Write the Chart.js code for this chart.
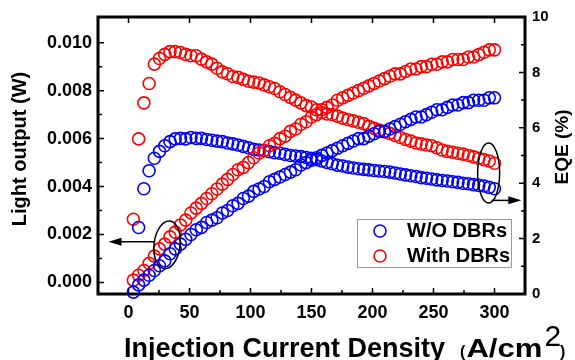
<!DOCTYPE html>
<html><head><meta charset="utf-8">
<script src="https://cdn.jsdelivr.net/npm/chart.js@4.4.1/dist/chart.umd.min.js"></script>
<style>html,body{margin:0;padding:0;background:#fff;}canvas{display:block;}</style>
</head><body>
<canvas id="c" width="575" height="360"></canvas>
<script>
// Injection current density (A/cm^2)
const currentDensity = [4,8.3,12.6,16.9,21.2,25.4,29.7,34.0,38.3,42.6,46.9,51.2,55.5,59.8,64.1,68.3,72.6,76.9,81.2,85.5,89.8,94.1,98.4,102.7,107.0,111.2,115.5,119.8,124.1,128.4,132.7,137.0,141.3,145.6,149.9,154.1,158.4,162.7,167.0,171.3,175.6,179.9,184.2,188.5,192.8,197.0,201.3,205.6,209.9,214.2,218.5,222.8,227.1,231.4,235.7,239.9,244.2,248.5,252.8,257.1,261.4,265.7,270.0,274.3,278.6,282.8,287.1,291.4,295.7,300.0];
// Light output (W)
const lopWithout = [-0.0004,-0.0001,0.0001,0.0003,0.0005,0.0007,0.0009,0.0012,0.0014,0.0016,0.0018,0.0020,0.0022,0.0023,0.0025,0.0026,0.0027,0.0029,0.0030,0.0032,0.0033,0.0035,0.0036,0.0038,0.0039,0.0040,0.0042,0.0043,0.0044,0.0045,0.0046,0.0047,0.0049,0.0050,0.0051,0.0052,0.0053,0.0054,0.0055,0.0056,0.0057,0.0058,0.0059,0.0060,0.0060,0.0061,0.0062,0.0063,0.0063,0.0064,0.0065,0.0066,0.0067,0.0068,0.0069,0.0069,0.0070,0.0071,0.0072,0.0072,0.0073,0.0074,0.0074,0.0075,0.0075,0.0076,0.0076,0.0076,0.0077,0.0077];
const lopWith = [0.0001,0.0003,0.0005,0.0008,0.0011,0.0014,0.0016,0.0019,0.0021,0.0024,0.0026,0.0029,0.0031,0.0033,0.0035,0.0037,0.0039,0.0041,0.0043,0.0045,0.0047,0.0048,0.0050,0.0052,0.0054,0.0055,0.0057,0.0058,0.0060,0.0061,0.0063,0.0064,0.0066,0.0067,0.0069,0.0070,0.0072,0.0073,0.0074,0.0076,0.0077,0.0078,0.0079,0.0080,0.0081,0.0082,0.0083,0.0084,0.0085,0.0086,0.0087,0.0087,0.0088,0.0089,0.0089,0.0090,0.0090,0.0091,0.0091,0.0092,0.0092,0.0093,0.0093,0.0093,0.0094,0.0094,0.0095,0.0096,0.0097,0.0097];
// EQE (%)
const eqeWithout = [null,2.4,3.8,4.45,4.9,5.15,5.35,5.5,5.6,5.62,5.6,5.65,5.62,5.62,5.58,5.55,5.52,5.5,5.45,5.42,5.38,5.33,5.28,5.22,5.2,5.18,5.14,5.1,5.08,5.04,5.0,4.98,4.96,4.93,4.9,4.85,4.8,4.75,4.7,4.65,4.62,4.58,4.55,4.52,4.5,4.48,4.46,4.44,4.42,4.4,4.37,4.33,4.3,4.27,4.24,4.2,4.18,4.15,4.12,4.1,4.08,4.05,4.03,4.0,3.98,3.95,3.92,3.9,3.85,3.8];
const eqeWith = [2.7,5.6,6.9,7.6,8.3,8.5,8.65,8.75,8.75,8.72,8.65,8.6,8.6,8.48,8.38,8.3,8.15,8.02,7.95,7.85,7.82,7.75,7.68,7.65,7.62,7.55,7.48,7.42,7.3,7.2,7.1,7.0,6.9,6.8,6.75,6.65,6.55,6.5,6.48,6.42,6.35,6.3,6.25,6.2,6.15,6.05,5.98,5.92,5.85,5.8,5.72,5.65,5.58,5.52,5.45,5.42,5.38,5.35,5.28,5.2,5.15,5.12,5.08,5.05,5.0,4.95,4.9,4.85,4.8,4.72];

const xTicks = [0,50,100,150,200,250,300];
const leftTicks = [0,0.002,0.004,0.006,0.008,0.010];
const rightTicks = [0,2,4,6,8,10];
const seriesNames = ['W/O DBRs','With DBRs'];
const xTitle = 'Injection Current Density';
const xUnit = 'A/cm';
const leftTitle = 'Light output (W)';
const rightTitle = 'EQE (%)';

const BLUE = '#0000ff', RED = '#ff0000';
const FONT = "'Liberation Sans', Arial, sans-serif";
Chart.defaults.font.family = FONT;
Chart.defaults.color = '#000';

function pts(ys){ return currentDensity.map((x,i)=>({x:x,y:ys[i]})).filter(p=>p.y!==null); }
function ds(label, ys, color, axis){
  return {label, data: pts(ys), yAxisID: axis, borderColor: color, backgroundColor: 'rgba(0,0,0,0)',
    pointStyle:'circle', pointRadius:6, pointHoverRadius:6, pointBorderWidth:1.6, showLine:false, clip:false};
}

const framePlugin = {
  id:'frame',
  beforeDatasetsDraw(chart){
    const {ctx, chartArea:a, scales} = chart;
    const sx = scales.x, yl = scales.yL, yr = scales.yR;
    ctx.save();
    ctx.strokeStyle = '#000';
    ctx.lineWidth = 1.5;
    ctx.beginPath();
    xTicks.forEach((v,i)=>{
      const p = sx.getPixelForValue(v);
      ctx.moveTo(p, a.bottom); ctx.lineTo(p, a.bottom-6);
      ctx.moveTo(p, a.top); ctx.lineTo(p, a.top+6);
      if (i < xTicks.length-1) {
        const m = sx.getPixelForValue((v + xTicks[i+1])/2);
        ctx.moveTo(m, a.bottom); ctx.lineTo(m, a.bottom-4);
      }
    });
    leftTicks.forEach((v,i)=>{
      const p = yl.getPixelForValue(v);
      ctx.moveTo(a.left, p); ctx.lineTo(a.left+6, p);
      if (i < leftTicks.length-1){ const m = yl.getPixelForValue((v+leftTicks[i+1])/2); ctx.moveTo(a.left, m); ctx.lineTo(a.left+4, m); }
    });
    rightTicks.forEach((v,i)=>{
      const p = yr.getPixelForValue(v);
      ctx.moveTo(a.right, p); ctx.lineTo(a.right-6, p);
      if (i < rightTicks.length-1){ const m = yr.getPixelForValue((v+rightTicks[i+1])/2); ctx.moveTo(a.right, m); ctx.lineTo(a.right-4, m); }
    });
    ctx.stroke();
    ctx.lineWidth = 3;
    ctx.strokeRect(a.left, a.top, a.right-a.left, a.bottom-a.top);
    ctx.restore();
  },
  afterDatasetsDraw(chart){
    const {ctx, scales} = chart;
    const sx = scales.x, yl = scales.yL, yr = scales.yR;
    ctx.save();
    ctx.strokeStyle = '#000'; ctx.fillStyle = '#000'; ctx.lineWidth = 1.5;
    ctx.beginPath();
    ctx.ellipse(sx.getPixelForValue(31.6), yl.getPixelForValue(0.00157), 13, 24, 0.12, 0, Math.PI*2);
    ctx.stroke();
    let ay = yl.getPixelForValue(0.0017);
    let x0 = sx.getPixelForValue(22), x1 = sx.getPixelForValue(-16.4);
    ctx.beginPath(); ctx.moveTo(x0, ay); ctx.lineTo(x1+10, ay); ctx.stroke();
    ctx.beginPath(); ctx.moveTo(x1, ay); ctx.lineTo(x1+13, ay-4); ctx.lineTo(x1+13, ay+4); ctx.closePath(); ctx.fill();
    ctx.beginPath();
    ctx.ellipse(sx.getPixelForValue(295.2), yr.getPixelForValue(4.37), 11, 30, 0, 0, Math.PI*2);
    ctx.stroke();
    ay = yr.getPixelForValue(3.38);
    x0 = sx.getPixelForValue(297.6); x1 = sx.getPixelForValue(322);
    ctx.beginPath(); ctx.moveTo(x0, ay); ctx.lineTo(x1-10, ay); ctx.stroke();
    ctx.beginPath(); ctx.moveTo(x1, ay); ctx.lineTo(x1-13, ay-4); ctx.lineTo(x1-13, ay+4); ctx.closePath(); ctx.fill();
    ctx.restore();
  },
  afterDraw(chart){
    const {ctx} = chart;
    ctx.save();
    // legend
    ctx.strokeStyle = '#9a9a9a'; ctx.lineWidth = 1;
    ctx.fillStyle = '#fff';
    ctx.fillRect(357.5, 219.5, 154, 48);
    ctx.strokeRect(357.5, 219.5, 154, 48);
    const items = [[seriesNames[0], BLUE, 231], [seriesNames[1], RED, 256]];
    items.forEach(([t,c,y])=>{
      ctx.beginPath(); ctx.strokeStyle = c; ctx.lineWidth = 1.6;
      ctx.arc(380, y, 6, 0, Math.PI*2); ctx.stroke();
      ctx.fillStyle = '#000'; ctx.font = 'bold 20px ' + FONT;
      ctx.textBaseline = 'middle'; ctx.textAlign = 'left';
      ctx.fillText(t, 407, y);
    });
    ctx.fillStyle = '#000';
    // left title
    ctx.save();
    ctx.translate(26, 149); ctx.rotate(-Math.PI/2);
    ctx.font = 'bold 20px ' + FONT; ctx.textAlign = 'center'; ctx.textBaseline = 'alphabetic';
    ctx.fillText(leftTitle, 0, 0);
    ctx.restore();
    // right title
    ctx.save();
    ctx.translate(568, 147); ctx.rotate(-Math.PI/2);
    ctx.font = 'bold 19px ' + FONT; ctx.textAlign = 'center'; ctx.textBaseline = 'alphabetic';
    ctx.fillText(rightTitle, 0, 0);
    ctx.restore();
    // bottom title
    ctx.textAlign = 'left'; ctx.textBaseline = 'alphabetic';
    let x = 124; const base = 357;
    ctx.font = 'bold 27px ' + FONT;
    ctx.fillText(xTitle, x, base);
    x += ctx.measureText(xTitle).width + 15;
    ctx.font = 'bold 16px ' + FONT;
    ctx.fillText('(', x, base);
    x += ctx.measureText('(').width + 1;
    ctx.font = 'bold 26px ' + FONT;
    const uw = ctx.measureText(xUnit).width;
    const sc = 76 / uw;
    ctx.save(); ctx.translate(x, base); ctx.scale(sc, 1); ctx.fillText(xUnit, 0, 0); ctx.restore();
    x += 76 + 2;
    ctx.font = '30px ' + FONT;
    ctx.fillText('2', x, base - 11);
    x += ctx.measureText('2').width - 1;
    ctx.font = 'bold 16px ' + FONT;
    ctx.fillText(')', x, base);
    ctx.restore();
  }
};

new Chart(document.getElementById('c'), {
  type: 'scatter',
  data: { datasets: [
    ds(seriesNames[0] + ' LOP', lopWithout, BLUE, 'yL'),
    ds(seriesNames[1] + ' LOP', lopWith, RED, 'yL'),
    ds(seriesNames[0] + ' EQE', eqeWithout, BLUE, 'yR'),
    ds(seriesNames[1] + ' EQE', eqeWith, RED, 'yR')
  ]},
  options: {
    responsive: false, animation: false, devicePixelRatio: 1,
    layout: { padding: { top: 17, left: 0, right: 0, bottom: 0 } },
    plugins: { legend: { display: false }, tooltip: { enabled: false } },
    scales: {
      x: { type: 'linear', position: 'bottom', min: -25, max: 325,
        grid: { display: false, drawTicks: false }, border: { display: false },
        afterBuildTicks: s => { s.ticks = xTicks.map(v => ({value: v})); },
        afterFit: s => { s.height = 66; },
        ticks: { autoSkip: false, maxRotation: 0, padding: 8, font: { size: 18, weight: 'bold' }, callback: v => String(v) } },
      yL: { type: 'linear', position: 'left', min: -0.00048, max: 0.01107,
        grid: { display: false, drawTicks: false }, border: { display: false },
        afterBuildTicks: s => { s.ticks = leftTicks.map(v => ({value: v})); },
        afterFit: s => { s.width = 98; },
        ticks: { autoSkip: false, padding: 6, font: { size: 18, weight: 'bold' }, callback: v => Number(v).toFixed(3) } },
      yR: { type: 'linear', position: 'right', min: 0, max: 10,
        grid: { display: false, drawTicks: false }, border: { display: false },
        afterBuildTicks: s => { s.ticks = rightTicks.map(v => ({value: v})); },
        afterFit: s => { s.width = 50; },
        ticks: { autoSkip: false, padding: 7, font: { size: 15, weight: 'bold' }, callback: v => String(v) } }
    }
  },
  plugins: [framePlugin]
});
</script>
</body></html>
